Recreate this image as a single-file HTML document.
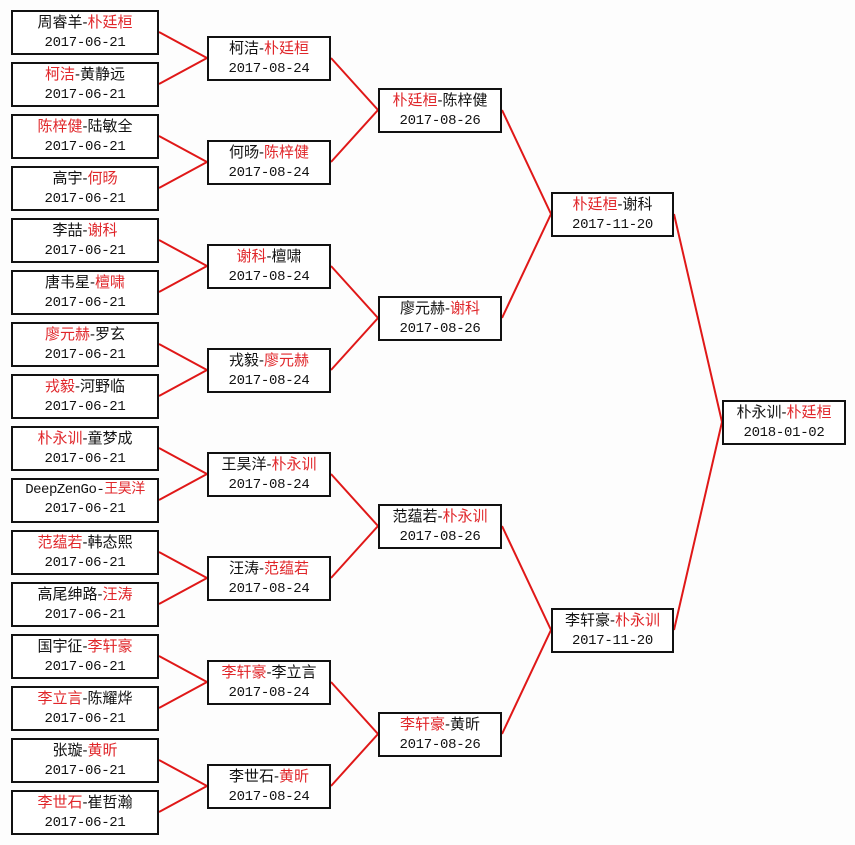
<!DOCTYPE html>
<html><head><meta charset="utf-8"><style>
body{margin:0;width:855px;height:845px;background:#fdfdfd;position:relative;overflow:hidden;font-family:"Liberation Mono","Noto Sans CJK SC",monospace;}
.b{position:absolute;box-sizing:border-box;border:2px solid #111;background:#fff;height:45px;text-align:center;font-size:14px;line-height:19px;padding-top:1px;color:#111;white-space:nowrap;letter-spacing:-0.3px}
.l{left:11px;width:148px}.c2{left:207px;width:124px}.c3{left:378px;width:124px}.c4{left:551px;width:123px}.c5{left:722px;width:124px}
.r{color:#e0262a}
.n{font-family:"Liberation Sans","Noto Sans CJK SC",sans-serif;font-size:15px;letter-spacing:0}
svg{position:absolute;left:0;top:0}
</style></head><body>
<svg width="855" height="845"><g stroke="#e01818" stroke-width="2" fill="none">
<path d="M159 32L207 58L159 84M159 136L207 162L159 188M159 240L207 266L159 292M159 344L207 370L159 396M159 448L207 474L159 500M159 552L207 578L159 604M159 656L207 682L159 708M159 760L207 786L159 812"/>
<path d="M331 58L378 110L331 162M331 266L378 318L331 370M331 474L378 526L331 578M331 682L378 734L331 786"/>
<path d="M502 110L551 214L502 318M502 526L551 630L502 734"/>
<path d="M674 214L722 422L674 630"/>
</g></svg>
<div class="b l" style="top:10px"><span class="n">周睿羊-<span class="r">朴廷桓</span></span><br>2017-06-21</div>
<div class="b l" style="top:62px"><span class="n"><span class="r">柯洁</span>-黄静远</span><br>2017-06-21</div>
<div class="b l" style="top:114px"><span class="n"><span class="r">陈梓健</span>-陆敏全</span><br>2017-06-21</div>
<div class="b l" style="top:166px"><span class="n">高宇-<span class="r">何旸</span></span><br>2017-06-21</div>
<div class="b l" style="top:218px"><span class="n">李喆-<span class="r">谢科</span></span><br>2017-06-21</div>
<div class="b l" style="top:270px"><span class="n">唐韦星-<span class="r">檀啸</span></span><br>2017-06-21</div>
<div class="b l" style="top:322px"><span class="n"><span class="r">廖元赫</span>-罗玄</span><br>2017-06-21</div>
<div class="b l" style="top:374px"><span class="n"><span class="r">戎毅</span>-河野临</span><br>2017-06-21</div>
<div class="b l" style="top:426px"><span class="n"><span class="r">朴永训</span>-童梦成</span><br>2017-06-21</div>
<div class="b l" style="top:478px"><span class="n" style="font-family:'Liberation Mono','Noto Sans CJK SC',monospace;font-size:14px;letter-spacing:-0.5px">DeepZenGo-<span class="r">王昊洋</span></span><br>2017-06-21</div>
<div class="b l" style="top:530px"><span class="n"><span class="r">范蕴若</span>-韩态熙</span><br>2017-06-21</div>
<div class="b l" style="top:582px"><span class="n">高尾绅路-<span class="r">汪涛</span></span><br>2017-06-21</div>
<div class="b l" style="top:634px"><span class="n">国宇征-<span class="r">李轩豪</span></span><br>2017-06-21</div>
<div class="b l" style="top:686px"><span class="n"><span class="r">李立言</span>-陈耀烨</span><br>2017-06-21</div>
<div class="b l" style="top:738px"><span class="n">张璇-<span class="r">黄昕</span></span><br>2017-06-21</div>
<div class="b l" style="top:790px"><span class="n"><span class="r">李世石</span>-崔哲瀚</span><br>2017-06-21</div>
<div class="b c2" style="top:36px"><span class="n">柯洁-<span class="r">朴廷桓</span></span><br>2017-08-24</div>
<div class="b c2" style="top:140px"><span class="n">何旸-<span class="r">陈梓健</span></span><br>2017-08-24</div>
<div class="b c2" style="top:244px"><span class="n"><span class="r">谢科</span>-檀啸</span><br>2017-08-24</div>
<div class="b c2" style="top:348px"><span class="n">戎毅-<span class="r">廖元赫</span></span><br>2017-08-24</div>
<div class="b c2" style="top:452px"><span class="n">王昊洋-<span class="r">朴永训</span></span><br>2017-08-24</div>
<div class="b c2" style="top:556px"><span class="n">汪涛-<span class="r">范蕴若</span></span><br>2017-08-24</div>
<div class="b c2" style="top:660px"><span class="n"><span class="r">李轩豪</span>-李立言</span><br>2017-08-24</div>
<div class="b c2" style="top:764px"><span class="n">李世石-<span class="r">黄昕</span></span><br>2017-08-24</div>
<div class="b c3" style="top:88px"><span class="n"><span class="r">朴廷桓</span>-陈梓健</span><br>2017-08-26</div>
<div class="b c3" style="top:296px"><span class="n">廖元赫-<span class="r">谢科</span></span><br>2017-08-26</div>
<div class="b c3" style="top:504px"><span class="n">范蕴若-<span class="r">朴永训</span></span><br>2017-08-26</div>
<div class="b c3" style="top:712px"><span class="n"><span class="r">李轩豪</span>-黄昕</span><br>2017-08-26</div>
<div class="b c4" style="top:192px"><span class="n"><span class="r">朴廷桓</span>-谢科</span><br>2017-11-20</div>
<div class="b c4" style="top:608px"><span class="n">李轩豪-<span class="r">朴永训</span></span><br>2017-11-20</div>
<div class="b c5" style="top:400px"><span class="n">朴永训-<span class="r">朴廷桓</span></span><br>2018-01-02</div>
</body></html>
